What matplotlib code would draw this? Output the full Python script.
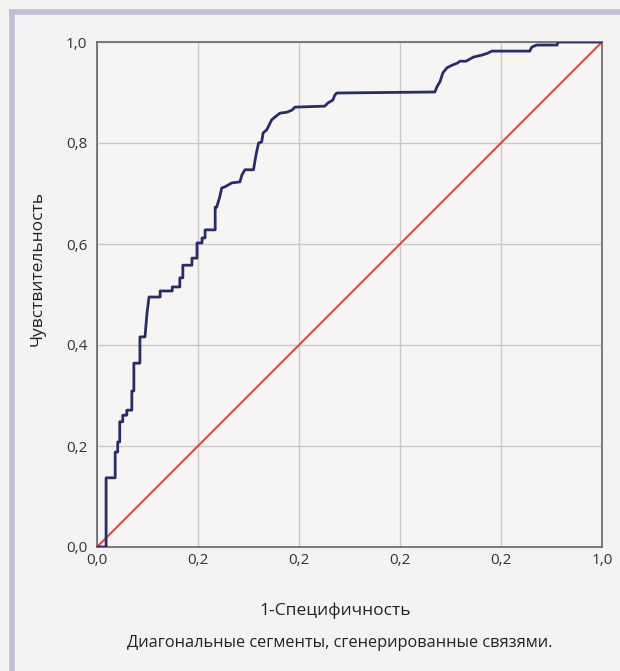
import matplotlib
matplotlib.use('Agg')
import matplotlib.pyplot as plt
from matplotlib.lines import Line2D

plt.rcParams['font.family'] = ['Open Sans', 'DejaVu Sans']

# ROC curve vertices (1-specificity, sensitivity)
fpr = [0.000, 0.018, 0.018, 0.036, 0.036, 0.041, 0.041, 0.045, 0.045, 0.051,
       0.051, 0.059, 0.059, 0.069, 0.069, 0.073, 0.073, 0.085, 0.085, 0.095,
       0.099, 0.103, 0.125, 0.125, 0.149, 0.149, 0.164, 0.164, 0.170, 0.170,
       0.188, 0.188, 0.198, 0.198, 0.208, 0.208, 0.214, 0.214, 0.234, 0.234,
       0.237, 0.243, 0.247, 0.253, 0.267, 0.283, 0.287, 0.293, 0.310, 0.313,
       0.316, 0.320, 0.326, 0.329, 0.336, 0.343, 0.346, 0.352, 0.362, 0.376,
       0.386, 0.392, 0.451, 0.457, 0.467, 0.471, 0.475, 0.665, 0.669, 0.673,
       0.679, 0.685, 0.693, 0.703, 0.713, 0.719, 0.731, 0.745, 0.762, 0.774,
       0.782, 0.857, 0.861, 0.871, 0.911, 0.913, 1.000]
tpr = [0.000, 0.000, 0.137, 0.137, 0.188, 0.188, 0.208, 0.208, 0.248, 0.248,
       0.261, 0.261, 0.271, 0.271, 0.309, 0.309, 0.364, 0.364, 0.416, 0.416,
       0.463, 0.495, 0.495, 0.507, 0.507, 0.515, 0.515, 0.533, 0.533, 0.558,
       0.558, 0.572, 0.572, 0.602, 0.602, 0.612, 0.612, 0.628, 0.628, 0.673,
       0.673, 0.693, 0.711, 0.713, 0.721, 0.723, 0.737, 0.747, 0.747, 0.766,
       0.782, 0.800, 0.802, 0.820, 0.826, 0.840, 0.846, 0.851, 0.859, 0.861,
       0.865, 0.871, 0.873, 0.879, 0.885, 0.895, 0.899, 0.901, 0.901, 0.911,
       0.921, 0.939, 0.949, 0.954, 0.958, 0.962, 0.962, 0.970, 0.974, 0.978,
       0.982, 0.982, 0.990, 0.994, 0.994, 1.000, 1.000]
ref_line = [0.0, 1.0]

x_ticks = [0.0, 0.2, 0.4, 0.6, 0.8, 1.0]
x_tick_labels = ['0,0', '0,2', '0,2', '0,2', '0,2', '1,0']
y_ticks = [0.0, 0.2, 0.4, 0.6, 0.8, 1.0]
y_tick_labels = ['0,0', '0,2', '0,4', '0,6', '0,8', '1,0']

W, H = 620, 671
fig = plt.figure(figsize=(W / 100, H / 100), dpi=100)
fig.patch.set_facecolor('#f4f3f1')

# lavender box of the printed figure (top and left edges only visible)
frame_col = '#c3bddb'
fig.add_artist(Line2D([12 / W, 1.0], [1 - 12 / H, 1 - 12 / H],
                      transform=fig.transFigure, color=frame_col, linewidth=4))
fig.add_artist(Line2D([12 / W, 12 / W], [0.0, 1 - 12 / H],
                      transform=fig.transFigure, color=frame_col, linewidth=4))

ax = fig.add_axes([97 / W, 1 - 547 / H, 505 / W, 505 / H])
ax.set_facecolor('#f6f5f3')

ax.plot(ref_line, ref_line, color='#d9534a', linewidth=1.6, zorder=2)
ax.plot(fpr, tpr, color='#2a2c6a', linewidth=2.0, zorder=3)

ax.set_xlim(0, 1)
ax.set_ylim(0, 1)
ax.set_xticks(x_ticks)
ax.set_xticklabels(x_tick_labels)
ax.set_yticks(y_ticks)
ax.set_yticklabels(y_tick_labels)
ax.tick_params(length=0, labelsize=11, colors='#333333')
ax.tick_params(axis='x', pad=4)
ax.tick_params(axis='y', pad=7)
ax.grid(True, color='#c9c9c9', linewidth=1.0)
ax.set_axisbelow(True)
for s in ax.spines.values():
    s.set_color('#666666')
    s.set_linewidth(1.2)

ax.set_xlabel('1-Специфичность', fontsize=12.5, color='#222222', va='center')
ax.xaxis.set_label_coords((335 - 97) / 505, (547 - 611) / 505)
ax.set_ylabel('Чувствительность', fontsize=12.5, color='#222222', va='center')
ax.yaxis.set_label_coords((38 - 97) / 505, (547 - 268) / 505)

fig.text(340 / W, 1 - 643 / H, 'Диагональные сегменты, сгенерированные связями.',
         ha='center', va='center', fontsize=11.8, color='#222222')

fig.savefig('out.png', dpi=100, facecolor=fig.get_facecolor())
